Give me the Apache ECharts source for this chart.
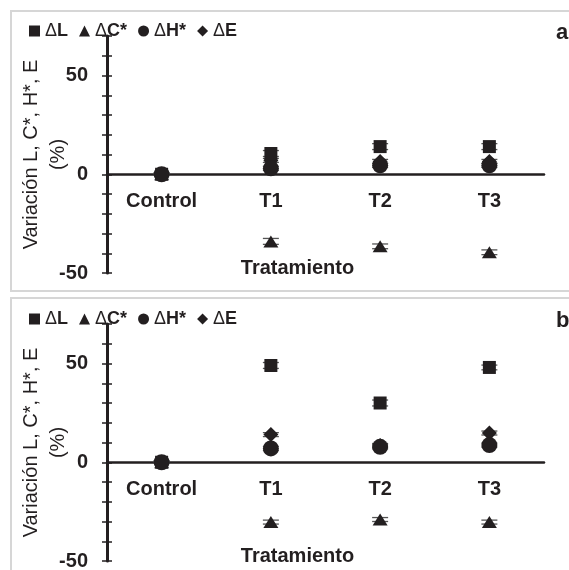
<!DOCTYPE html>
<html>
<head>
<meta charset="utf-8">
<title>Variación de color</title>
<script src="https://cdn.jsdelivr.net/npm/echarts@6/dist/echarts.min.js"></script>
<style>
  html, body { margin: 0; padding: 0; background: #fff; }
</style>
</head>
<body>
<div id="main" style="width: 569px; height: 570px;"></div>
<script>
// categorías y nombres de series
var categories = ['Control', 'T1', 'T2', 'T3'];
var names = ['ΔL', 'ΔC*', 'ΔH*', 'ΔE'];
var yTicks = [-50, 0, 50];

// panel a
var aL = [0, 10.5, 14, 14];
var aC = [0, -34, -36.5, -39.5];
var aH = [0, 3, 4.5, 4.5];
var aE = [0, 7, 6.5, 6.5];
var aLerr = [0.5, 1.5, 1.5, 1.5];
var aCerr = [0.5, 1.5, 1.2, 1.2];
var aHerr = [0.5, 1, 1, 1];
var aEerr = [0.5, 1, 1, 1];

// panel b
var bL = [0, 49, 30, 48];
var bC = [0, -30.3, -29, -30.3];
var bH = [0, 7, 7.8, 8.7];
var bE = [0, 14, 8.5, 14.8];
var bLerr = [0.5, 1.5, 1.5, 1.2];
var bCerr = [0.5, 1, 1, 1];
var bHerr = [0.5, 1, 1, 1];
var bEerr = [0.5, 1, 1, 1];

var ink = '#231f20';
var font = 'Liberation Sans, Arial, sans-serif';
var symbols = ['rect', 'triangle', 'circle', 'diamond'];
var sizes = [13, [15, 12], 16, 15];
var zs = [4, 4, 4, 3];
var yMin = -50, yMax = 70, gridH = 237;
// desplazamiento del eje x hasta y = 0
var zeroOffset = -gridH * (0 - yMin) / (yMax - yMin);

var chart = echarts.init(document.getElementById('main'));

function legend(top) {
    return {
        top: top, left: 24,
        itemWidth: 11, itemHeight: 11, itemGap: 11,
        data: names,
        formatter: function (n) { return '{d|Δ}{b|' + n.slice(1) + '}'; },
        textStyle: {
            color: ink, fontFamily: font,
            rich: {
                d: { fontSize: 18, color: ink, fontFamily: font },
                b: { fontSize: 18, fontWeight: 'bold', color: ink, fontFamily: font }
            }
        }
    };
}

function xAxis(gi) {
    return {
        type: 'category', gridIndex: gi, data: categories,
        position: 'bottom', offset: zeroOffset,
        axisLine: { onZero: false, lineStyle: { color: ink, width: 2.5 } },
        axisTick: { show: false },
        axisLabel: { margin: 17, color: ink, fontSize: 20, fontWeight: 'bold', fontFamily: font },
        name: 'Tratamiento', nameLocation: 'middle', nameGap: 84, nameMoveOverlap: false,
        nameTextStyle: { color: ink, fontSize: 20, fontWeight: 'bold', fontFamily: font, padding: [0, 56, 0, 0] }
    };
}

function yAxis(gi, main) {
    var ax = {
        type: 'value', gridIndex: gi, position: 'left', min: yMin, max: yMax, interval: 10,
        splitLine: { show: false },
        axisLine: { show: main, onZero: false, lineStyle: { color: ink, width: 3 } },
        axisTick: { show: true, inside: !main, length: 5, lineStyle: { color: ink, width: 1.5 } },
        axisLabel: {
            show: main, margin: 19, color: ink, fontSize: 20, fontWeight: 'bold', fontFamily: font,
            formatter: function (v) { return yTicks.indexOf(v) >= 0 ? String(v) : ''; }
        }
    };
    if (main) {
        ax.name = 'Variación L, C*, H*, E\n(%)';
        ax.nameLocation = 'middle';
        ax.nameGap = 35;
        ax.nameMoveOverlap = false;
        ax.nameTextStyle = { color: ink, fontSize: 20, lineHeight: 27, fontFamily: font };
    }
    return ax;
}

function errBars(gi, vals, errs) {
    return {
        type: 'custom', xAxisIndex: gi, yAxisIndex: gi * 2, z: 2, silent: true,
        data: vals.map(function (v, i) { return [i, v, errs[i]]; }),
        renderItem: function (params, api) {
            var x = api.value(0), v = api.value(1), e = api.value(2);
            var hi = api.coord([x, v + e]);
            var lo = api.coord([x, v - e]);
            var w = 8;
            var st = { stroke: '#555', lineWidth: 1.3 };
            return {
                type: 'group',
                children: [
                    { type: 'line', shape: { x1: hi[0], y1: hi[1], x2: lo[0], y2: lo[1] }, style: st },
                    { type: 'line', shape: { x1: hi[0] - w, y1: hi[1], x2: hi[0] + w, y2: hi[1] }, style: st },
                    { type: 'line', shape: { x1: lo[0] - w, y1: lo[1], x2: lo[0] + w, y2: lo[1] }, style: st }
                ]
            };
        }
    };
}

function panel(gi, sets, errs) {
    var out = [];
    sets.forEach(function (vals, k) {
        out.push(errBars(gi, vals, errs[k]));
        out.push({
            name: names[k], type: 'scatter', xAxisIndex: gi, yAxisIndex: gi * 2,
            symbol: symbols[k], symbolSize: sizes[k], z: zs[k],
            itemStyle: { color: ink, opacity: 1 },
            data: vals
        });
    });
    return out;
}

chart.setOption({
    animation: false,
    backgroundColor: '#fff',
    legend: [legend(17), legend(305)],
    grid: [
        { left: 107, right: 25, top: 36, height: gridH, outerBoundsMode: 'none' },
        { left: 107, right: 25, top: 324, height: gridH, outerBoundsMode: 'none' }
    ],
    xAxis: [xAxis(0), xAxis(1)],
    yAxis: [yAxis(0, true), yAxis(0, false), yAxis(1, true), yAxis(1, false)],
    graphic: [
        { type: 'rect', z: -1, shape: { x: 11, y: 11, width: 600, height: 280 }, style: { fill: null, stroke: '#d6d6d6', lineWidth: 2 } },
        { type: 'rect', z: -1, shape: { x: 11, y: 298, width: 600, height: 300 }, style: { fill: null, stroke: '#d6d6d6', lineWidth: 2 } },
        { type: 'text', x: 556, y: 33, style: { text: 'a', fill: ink, font: 'bold 22px ' + font, verticalAlign: 'middle' } },
        { type: 'text', x: 556, y: 321, style: { text: 'b', fill: ink, font: 'bold 22px ' + font, verticalAlign: 'middle' } }
    ],
    series: panel(0, [aL, aC, aH, aE], [aLerr, aCerr, aHerr, aEerr])
        .concat(panel(1, [bL, bC, bH, bE], [bLerr, bCerr, bHerr, bEerr]))
});
</script>
</body>
</html>
